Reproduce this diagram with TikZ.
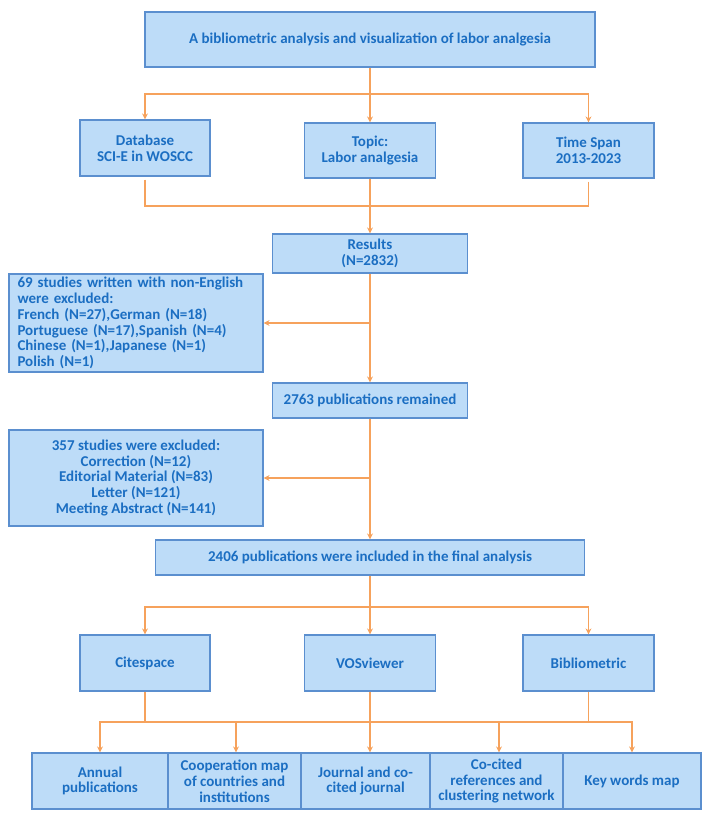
\documentclass[tikz,border=0pt]{standalone}
\usepackage{fontspec}
\setmainfont{Carlito}
\usetikzlibrary{arrows.meta}
\definecolor{boxfill}{HTML}{BDDCF8}
\definecolor{boxline}{HTML}{5B8FCF}
\definecolor{boxtext}{HTML}{1B6EC2}
\definecolor{arrowc}{HTML}{F6A25C}
\tikzset{
  bx/.style={draw=boxline, fill=boxfill, line width=1.2pt, inner sep=0pt,
    text=boxtext, font=\fontsize{15}{15.8}\selectfont\bfseries, align=center},
  ln/.style={draw=arrowc, line width=1.5pt},
  arr/.style={ln, -{Stealth[length=6pt,width=6pt]}}
}
\begin{document}
\begin{tikzpicture}[x=1pt,y=-1pt]
\useasboundingbox (0,0) rectangle (705,822);
% boxes
\node[bx, minimum width=450, minimum height=55] (title) at (370,39.5) {A bibliometric analysis and visualization of labor analgesia};
\node[bx, minimum width=130, minimum height=56] (db) at (145,148) {Database\\SCI-E in WOSCC};
\node[bx, minimum width=131, minimum height=55] (topic) at (370,150.5) {Topic:\\Labor analgesia};
\node[bx, minimum width=131, minimum height=55] (time) at (588.5,150.5) {Time Span\\2013-2023};
\node[bx, minimum width=195, minimum height=39] (results) at (370,253.5) {Results\\(N=2832)};
\node[bx, minimum width=254, minimum height=98, align=left, text width=237] (ex1) at (136,323) {69 studies written with non-English\\were excluded:\\French (N=27),German (N=18)\\Portuguese (N=17),Spanish (N=4)\\Chinese (N=1),Japanese (N=1)\\Polish (N=1)};
\node[bx, minimum width=195, minimum height=35] (rem) at (370,400.5) {2763 publications remained};
\node[bx, minimum width=254, minimum height=96] (ex2) at (136,478) {357 studies were excluded:\\Correction (N=12)\\Editorial Material (N=83)\\Letter (N=121)\\Meeting Abstract (N=141)};
\node[bx, minimum width=429, minimum height=35] (final) at (370,557.5) {2406 publications were included in the final analysis};
\node[bx, minimum width=130, minimum height=56] (cite) at (145,663) {Citespace};
\node[bx, minimum width=131, minimum height=56] (vos) at (370,663) {VOSviewer};
\node[bx, minimum width=131, minimum height=56] (bib) at (588.5,663) {Bibliometric};
\node[bx, minimum width=136, minimum height=56] (b1) at (100,781) {Annual\\publications};
\node[bx, minimum width=133, minimum height=56] (b2) at (234.5,781) {Cooperation map\\of countries and\\institutions};
\node[bx, minimum width=129, minimum height=56] (b3) at (365.5,781) {Journal and co-\\cited journal};
\node[bx, minimum width=133, minimum height=56] (b4) at (496.5,781) {Co-cited\\references and\\clustering network};
\node[bx, minimum width=138, minimum height=56] (b5) at (632,781) {Key words map};
% junctions
\coordinate (j1) at (370,94);
\coordinate (j2) at (370,206);
\coordinate (j3) at (370,607);
\coordinate (j4) at (370,722);
% connectors
\draw[arr] (title.south) -- (topic.north);
\draw[arr] (j1) -| (db.north);
\draw[arr] (j1) -| (time.north);
\draw[ln] ([yshift=-3pt]db.south) |- (j2);
\draw[ln] ([yshift=-3pt]time.south) |- (j2);
\draw[arr] (topic.south) -- (results.north);
\draw[arr] (results.south) -- (rem.north);
\draw[arr] (results.south |- ex1.east) -- (ex1.east);
\draw[arr] (rem.south) -- (final.north);
\draw[arr] (rem.south |- ex2.east) -- (ex2.east);
\draw[ln] (final.south) -- (j3);
\draw[arr] (j3) -- (vos.north);
\draw[arr] (j3) -| (cite.north);
\draw[arr] (j3) -| (bib.north);
\draw[ln] (cite.south) |- (j4);
\draw[ln] (bib.south) |- (j4);
\draw[arr] (vos.south) -- (vos.south |- b3.north);
\draw[arr] (j4) -| (b1.north);
\draw[arr] (j4) -| ([xshift=1.5pt]b2.north);
\draw[arr] (j4) -| ([xshift=2.5pt]b4.north);
\draw[arr] (j4) -| (b5.north);
\end{tikzpicture}
\end{document}
